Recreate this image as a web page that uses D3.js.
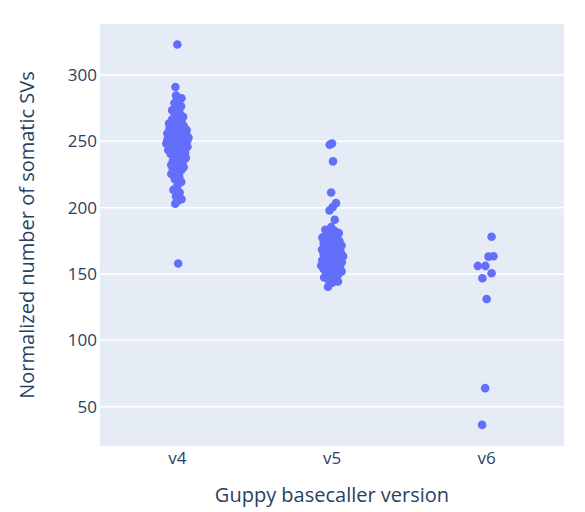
<!DOCTYPE html>
<html>
<head>
<meta charset="utf-8">
<script src="https://cdn.jsdelivr.net/npm/d3@7"></script>
<style>
  html, body { margin: 0; padding: 0; background: #fff; }
  svg { display: block; }
</style>
</head>
<body>
<svg id="chart" width="585" height="512"></svg>
<script>
// ---- data ----
const categories = ["v4", "v5", "v6"];

const v4Values = [
  322.5, 290.5, 157.5,
  284, 282, 280, 278.5, 276, 274, 273, 271, 270, 268, 267, 266, 265, 264, 263, 262,
  261.5, 261, 260, 259.5, 259, 258.5, 258, 257.5, 257, 256.5, 256, 255.5, 255, 254.5,
  254, 254, 253.5, 253, 253, 252.5, 252, 252, 251.5, 251, 251, 250.5, 250, 250, 249.5,
  249, 249, 248.5, 248, 248, 247.5, 247, 247, 246.5, 246, 246, 245.5, 245, 244.5, 244,
  243.5, 243, 242.5, 242, 241, 240.5, 240, 239, 238, 237, 236, 235, 234, 233, 232, 231,
  230.5, 230, 229.5, 229, 228, 227, 225, 223, 221, 219, 216, 213, 211, 208, 206, 205, 202.5
];

const v5Values = [
  248, 247, 234.5, 211, 203, 200, 197.5, 190.5, 185,
  183, 182, 181, 180.5, 180, 179, 178, 177.5, 177, 176, 175, 174.5, 174, 173, 172,
  171.5, 171, 170.5, 170, 169, 168.5, 168, 167, 166.5, 166, 165, 164.5, 164, 163.5,
  163, 162, 161.5, 161, 160.5, 160, 159.5, 159, 158.5, 158, 157.5, 157, 156.5, 156,
  155.5, 155, 154.5, 154, 153.5, 153, 152, 151.5, 151, 150, 149, 148, 147, 146, 145,
  144, 143, 140
];

const v6Values = [130.8, 155.7, 150.2, 63.6, 177.7, 162.7, 146.4, 163.0, 155.7, 35.9];

const seriesValues = [v4Values, v5Values, v6Values];
const yTickValues = [50, 100, 150, 200, 250, 300];

const xTitle = "Guppy basecaller version";
const yTitle = "Normalized number of somatic SVs";

// ---- layout ----
const W = 585, H = 512;
const plot = { left: 100, right: 564, top: 24, bottom: 446 };
const fontFamily = "'Open Sans', verdana, arial, sans-serif";
const textColor = "#2a3f5f";
const markerColor = "#636efa";

const svg = d3.select("#chart");

const x = d3.scaleBand().domain(categories).range([plot.left, plot.right]).padding(0);
const y = d3.scaleLinear().domain([20, 338]).range([plot.bottom, plot.top]);

// plot background
svg.append("rect")
  .attr("x", plot.left).attr("y", plot.top)
  .attr("width", plot.right - plot.left).attr("height", plot.bottom - plot.top)
  .attr("fill", "#e5ecf6");

// y axis with gridlines
const yAxis = d3.axisLeft(y).tickValues(yTickValues).tickSize(0).tickPadding(0);
const gy = svg.append("g").attr("transform", `translate(${plot.left},0)`).call(yAxis);
gy.select(".domain").remove();
gy.selectAll(".tick text")
  .attr("x", -3)
  .attr("dy", "0.35em")
  .style("font-family", fontFamily)
  .style("font-size", "17px")
  .attr("fill", textColor);
gy.selectAll(".tick").append("line")
  .attr("x1", 0).attr("x2", plot.right - plot.left)
  .attr("stroke", "#ffffff").attr("stroke-width", 1.5);

// x axis
const xAxis = d3.axisBottom(x).tickSize(0).tickPadding(0);
const gx = svg.append("g").attr("transform", `translate(0,${plot.bottom})`).call(xAxis);
gx.select(".domain").remove();
gx.selectAll(".tick text")
  .attr("y", 18)
  .attr("dy", 0)
  .style("font-family", fontFamily)
  .style("font-size", "17px")
  .attr("fill", textColor);

// deterministic density-scaled jitter (like a strip plot)
const jitterFrac = 0.075;
function jitterOffsets(vals) {
  const w = 8;
  const counts = vals.map(v => vals.filter(u => Math.abs(u - v) <= w).length);
  const maxC = d3.max(counts);
  return vals.map((v, i) => {
    const u = ((0.5 + i * 0.6180339887) % 1) * 2 - 1;
    const f = Math.sqrt(counts[i] / maxC);
    return u * f * jitterFrac * x.bandwidth();
  });
}

const points = [];
categories.forEach((c, ci) => {
  const vals = seriesValues[ci];
  const offs = jitterOffsets(vals);
  vals.forEach((v, i) => points.push({ cat: c, value: v, off: offs[i] }));
});

svg.append("g").selectAll("circle")
  .data(points)
  .join("circle")
  .attr("cx", d => x(d.cat) + x.bandwidth() / 2 + d.off)
  .attr("cy", d => y(d.value))
  .attr("r", 4.3)
  .attr("fill", markerColor);

// axis titles
svg.append("text")
  .attr("x", (plot.left + plot.right) / 2)
  .attr("y", 502)
  .attr("text-anchor", "middle")
  .style("font-family", fontFamily)
  .style("font-size", "20px")
  .attr("fill", textColor)
  .text(xTitle);

svg.append("text")
  .attr("transform", `translate(34,${(plot.top + plot.bottom) / 2}) rotate(-90)`)
  .attr("text-anchor", "middle")
  .style("font-family", fontFamily)
  .style("font-size", "20px")
  .attr("fill", textColor)
  .text(yTitle);
</script>
</body>
</html>
